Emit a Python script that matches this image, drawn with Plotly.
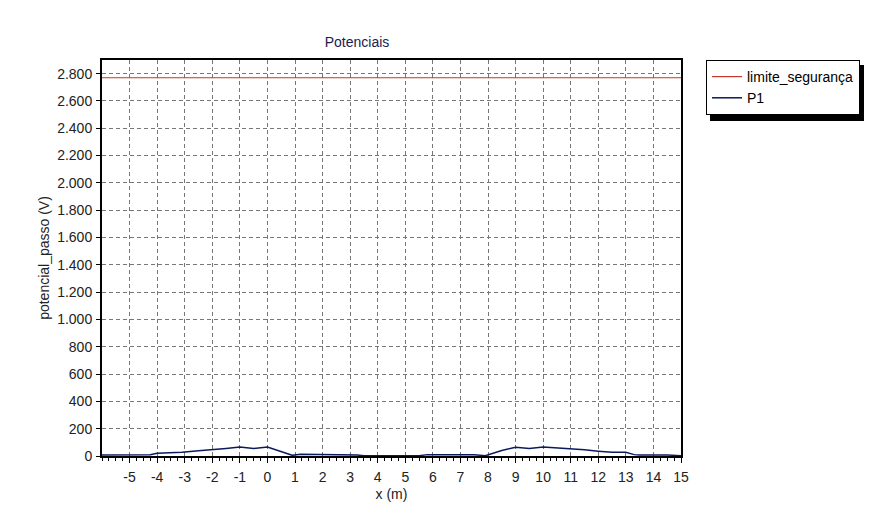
import plotly.graph_objects as go

# Data
x_limit = [-6, 15]
limite_seguranca = [2770, 2770]

x_p1 = [-6, -5.5, -5, -4.5, -4.25, -4, -3.5, -3.1, -2.5, -2, -1.5, -1, -0.5, 0, 0.5, 0.9,
        1.2, 1.5, 2, 2.5, 3, 3.25, 3.5, 4, 4.5, 5, 5.5, 5.8, 6, 6.5, 7, 7.5, 7.9, 8.5, 9,
        9.5, 10, 10.5, 11, 11.5, 12, 12.5, 13, 13.3, 13.5, 14, 14.5, 15]
p1 = [8, 8, 8, 8, 10, 20, 22, 28, 38, 44, 55, 65, 55, 66, 35, 5,
      12, 12, 12, 12, 12, 8, 2, 2, 2, 2, 2, 10, 10, 10, 10, 10, 2, 40, 64,
      55, 66, 60, 52, 45, 35, 27, 27, 10, 8, 8, 8, 2]

x_ticks = list(range(-5, 16))
y_ticks = list(range(0, 2801, 200))

FONT = "Liberation Sans, Arial, sans-serif"
W, H = 869, 507
L, T, PW, PH = 94, 52, 579, 396


def px(fx):
    return (fx - L) / PW


def py(fy):
    return 1 - (fy - T) / PH


fig = go.Figure()
fig.add_trace(go.Scatter(x=x_limit, y=limite_seguranca, mode="lines",
                         name="limite_segurança",
                         line=dict(color="#c0392b", width=1.2)))
fig.add_trace(go.Scatter(x=x_p1, y=p1, mode="lines", name="P1",
                         line=dict(color="#0a1a5c", width=1.5)))

# legend drop shadow
fig.add_shape(type="rect", xref="paper", yref="paper",
              x0=px(702), x1=px(856), y0=py(57), y1=py(113),
              fillcolor="black", line=dict(width=0), layer="above")

fig.update_layout(
    width=W, height=H,
    margin=dict(l=L, r=W - L - PW, t=T, b=H - T - PH, autoexpand=False),
    paper_bgcolor="white", plot_bgcolor="white",
    separators=",.",
    font=dict(family=FONT, size=14, color="#222222"),
    title=dict(text="Potenciais", x=349 / W, xanchor="center",
               y=1 - 34 / H, yanchor="middle",
               font=dict(family=FONT, size=14, color="#1a2050")),
    legend=dict(x=px(698), xanchor="left", y=1.0, yanchor="top",
                bgcolor="white", bordercolor="black", borderwidth=1,
                font=dict(family=FONT, size=14, color="black"),
                itemwidth=30, tracegroupgap=0),
    showlegend=True,
)

fig.update_xaxes(range=[-6, 15], tickvals=x_ticks, ticktext=[str(v) for v in x_ticks],
                 automargin=False,
                 showgrid=True, gridcolor="#777777", griddash="4px,3px", gridwidth=0.7,
                 showline=True, linecolor="black", linewidth=2, mirror=True,
                 ticks="outside", ticklen=5, tickcolor="black", ticklabelstandoff=2,
                 minor=dict(dtick=0.25, ticks="outside", ticklen=3, tickcolor="black", showgrid=False),
                 zeroline=False,
                 title=dict(text="x (m)", standoff=5, font=dict(size=14)),
                 tickfont=dict(size=14))
fig.update_yaxes(range=[0, 2900], tickvals=y_ticks, tickformat=",d",
                 automargin=False,
                 showgrid=True, gridcolor="#777777", griddash="4px,3px", gridwidth=0.7,
                 showline=True, linecolor="black", linewidth=2, mirror=True,
                 ticks="outside", ticklen=4, tickcolor="black", ticklabelstandoff=1,
                 zeroline=False,
                 title=dict(text="potencial_passo (V)", standoff=4, font=dict(size=14)),
                 tickfont=dict(size=14))

fig.write_html("out.html")
